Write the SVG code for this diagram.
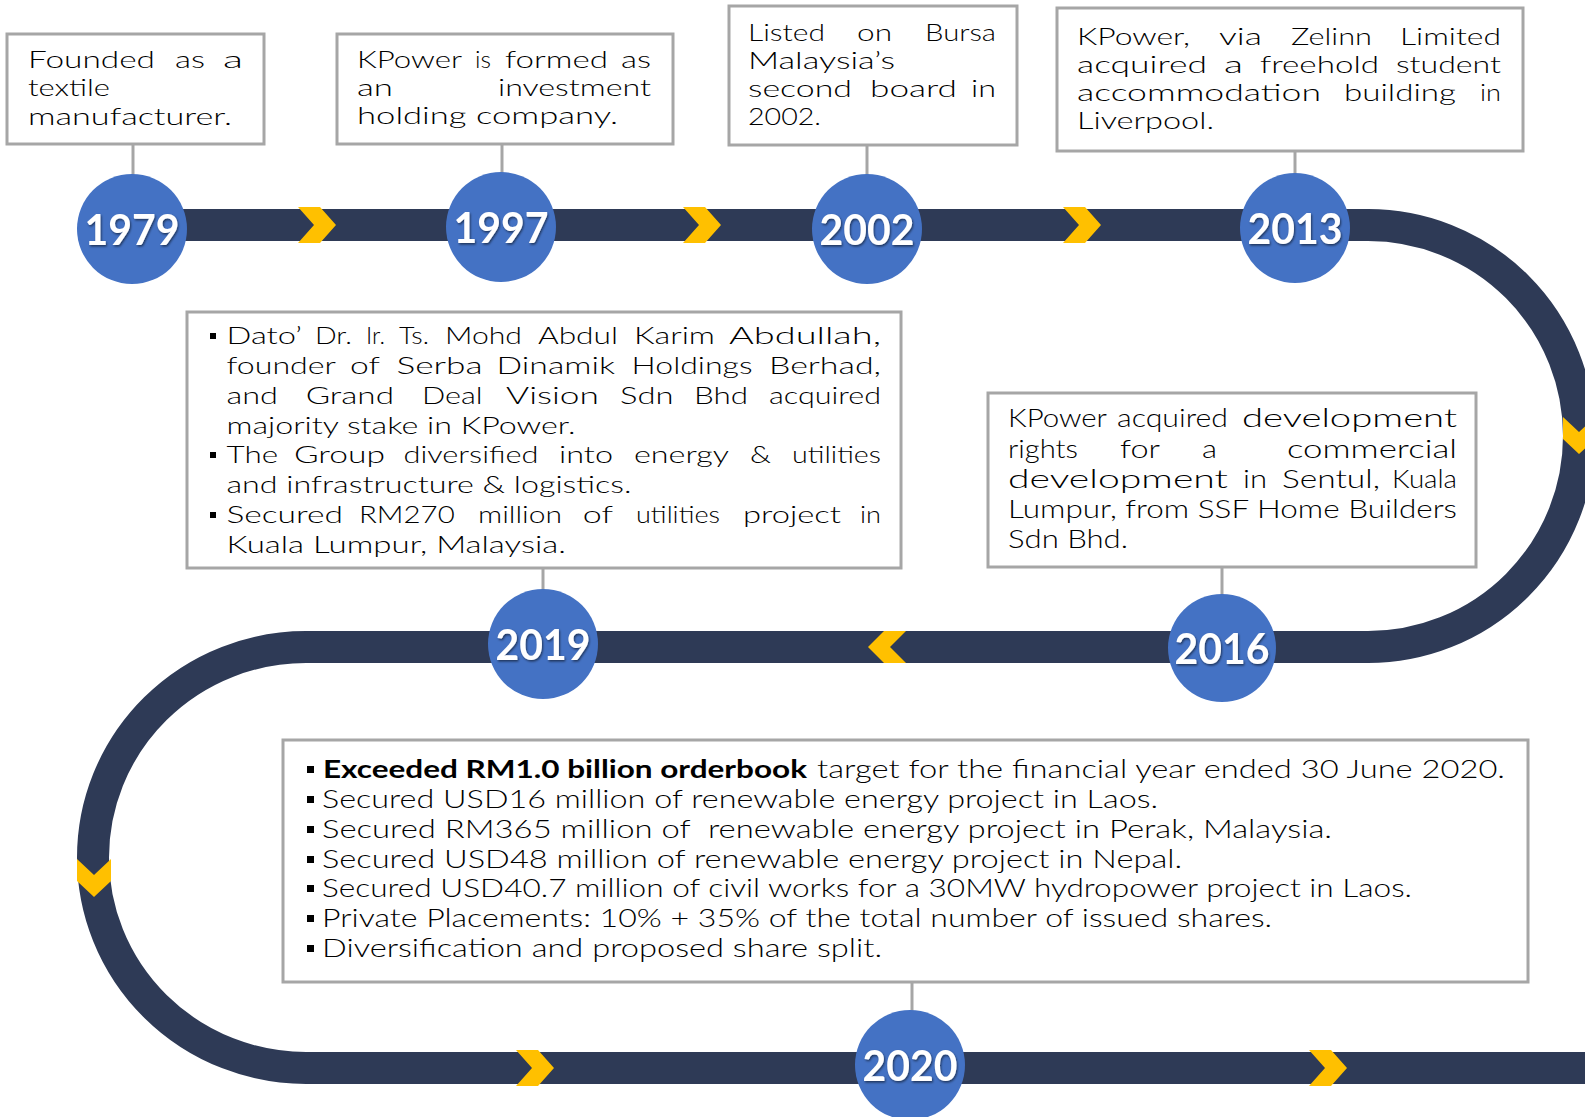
<svg xmlns="http://www.w3.org/2000/svg" width="1585" height="1117" viewBox="0 0 1585 1117">
<style>
.bg{fill:#ffffff}
.trk{fill:none;stroke:#2E3A56;stroke-width:32}
.chev{fill:#FFC000}
.box{fill:#ffffff;stroke:#A6A6A6;stroke-width:3}
.con{stroke:#A6A6A6;stroke-width:3;fill:none}
.dot{fill:#4472C4}
.yr{font-family:Lato,"Liberation Sans",Arial,sans-serif;font-weight:bold;font-size:42px;fill:#ffffff;text-anchor:middle;filter:url(#sh)}
.t{font-family:Lato,"DejaVu Sans","Liberation Sans",sans-serif;font-weight:300;fill:#000000}
.s24{font-size:24px}
.s25{font-size:25px}
.s255{font-size:25.5px}
.b{font-weight:bold}
.bul{fill:#000000}
</style>
<defs>
<filter id="sh" x="-20%" y="-20%" width="140%" height="140%">
<feDropShadow dx="1" dy="1.5" stdDeviation="1.2" flood-color="#000000" flood-opacity="0.55"/>
</filter>
<polygon id="chR" points="0,-18 22,-18 38,0 22,18 0,18 16,0"/>
</defs>
<rect class="bg" x="0" y="0" width="1585" height="1117"/>

<g id="track">
<path class="trk" d="M 132 225 H 1368 A 211 211 0 0 1 1368 647 H 306 A 213 210.5 0 0 0 306 1068 H 1600"/>
<use href="#chR" class="chev" x="298" y="225"/>
<use href="#chR" class="chev" x="683" y="225"/>
<use href="#chR" class="chev" x="1063" y="225"/>
<polygon class="chev" points="1563,417 1579,432 1595,417 1595,439 1579,454 1563,439"/>
<polygon class="chev" points="906,631 884,631 868,647 884,663 906,663 890,647"/>
<polygon class="chev" points="77,859 94,875 111,859 111,881 94,897 77,881"/>
<use href="#chR" class="chev" x="516" y="1068"/>
<use href="#chR" class="chev" x="1309" y="1068"/>
</g>

<g id="connectors">
<line class="con" x1="133" y1="144" x2="133" y2="176"/>
<line class="con" x1="502" y1="144" x2="502" y2="174"/>
<line class="con" x1="867" y1="145" x2="867" y2="176"/>
<line class="con" x1="1295" y1="151" x2="1295" y2="175"/>
<line class="con" x1="1222" y1="567" x2="1222" y2="596"/>
<line class="con" x1="543" y1="568" x2="543" y2="592"/>
<line class="con" x1="912" y1="982" x2="912" y2="1012"/>
</g>

<g id="n1979">
<rect class="box" x="7" y="34" width="257" height="110"/>
<g class="t s24">
<text x="28" y="68" textLength="127" lengthAdjust="spacingAndGlyphs">Founded</text>
<text x="175" y="68" textLength="30" lengthAdjust="spacingAndGlyphs">as</text>
<text x="223" y="68" textLength="20" lengthAdjust="spacingAndGlyphs">a</text>
<text x="28" y="96" textLength="82" lengthAdjust="spacingAndGlyphs">textile</text>
<text x="28" y="125" textLength="204" lengthAdjust="spacingAndGlyphs">manufacturer.</text>
</g>
<circle class="dot" cx="132" cy="229" r="55"/>
<text class="yr" x="132" y="245" textLength="95" lengthAdjust="spacingAndGlyphs">1979</text>
</g>

<g id="n1997">
<rect class="box" x="337" y="34" width="336" height="110"/>
<g class="t s24">
<text x="357" y="68" textLength="105" lengthAdjust="spacingAndGlyphs">KPower</text>
<text x="475" y="68" textLength="16" lengthAdjust="spacingAndGlyphs">is</text>
<text x="505" y="68" textLength="103" lengthAdjust="spacingAndGlyphs">formed</text>
<text x="621" y="68" textLength="30" lengthAdjust="spacingAndGlyphs">as</text>
<text x="357" y="96" textLength="36" lengthAdjust="spacingAndGlyphs">an</text>
<text x="498" y="96" textLength="153" lengthAdjust="spacingAndGlyphs">investment</text>
<text x="357" y="124" textLength="261" lengthAdjust="spacingAndGlyphs">holding company.</text>
</g>
<circle class="dot" cx="501" cy="227" r="55"/>
<text class="yr" x="501" y="243" textLength="95" lengthAdjust="spacingAndGlyphs">1997</text>
</g>

<g id="n2002">
<rect class="box" x="729" y="6" width="288" height="139"/>
<g class="t s24">
<text x="748" y="41" textLength="77" lengthAdjust="spacingAndGlyphs">Listed</text>
<text x="857" y="41" textLength="35" lengthAdjust="spacingAndGlyphs">on</text>
<text x="925" y="41" textLength="71" lengthAdjust="spacingAndGlyphs">Bursa</text>
<text x="748" y="69" textLength="147" lengthAdjust="spacingAndGlyphs">Malaysia’s</text>
<text x="748" y="97" textLength="104" lengthAdjust="spacingAndGlyphs">second</text>
<text x="870" y="97" textLength="87" lengthAdjust="spacingAndGlyphs">board</text>
<text x="971" y="97" textLength="25" lengthAdjust="spacingAndGlyphs">in</text>
<text x="748" y="125" textLength="73" lengthAdjust="spacingAndGlyphs">2002.</text>
</g>
<circle class="dot" cx="867" cy="229" r="55"/>
<text class="yr" x="867" y="245" textLength="95" lengthAdjust="spacingAndGlyphs">2002</text>
</g>

<g id="n2013">
<rect class="box" x="1057" y="8" width="466" height="143"/>
<g class="t s24">
<text x="1077" y="45" textLength="113" lengthAdjust="spacingAndGlyphs">KPower,</text>
<text x="1219" y="45" textLength="43" lengthAdjust="spacingAndGlyphs">via</text>
<text x="1291" y="45" textLength="81" lengthAdjust="spacingAndGlyphs">Zelinn</text>
<text x="1400" y="45" textLength="101" lengthAdjust="spacingAndGlyphs">Limited</text>
<text x="1077" y="73" textLength="130" lengthAdjust="spacingAndGlyphs">acquired</text>
<text x="1224" y="73" textLength="19" lengthAdjust="spacingAndGlyphs">a</text>
<text x="1260" y="73" textLength="119" lengthAdjust="spacingAndGlyphs">freehold</text>
<text x="1396" y="73" textLength="105" lengthAdjust="spacingAndGlyphs">student</text>
<text x="1077" y="101" textLength="244" lengthAdjust="spacingAndGlyphs">accommodation</text>
<text x="1344" y="101" textLength="112" lengthAdjust="spacingAndGlyphs">building</text>
<text x="1480" y="101" textLength="21" lengthAdjust="spacingAndGlyphs">in</text>
<text x="1077" y="129" textLength="137" lengthAdjust="spacingAndGlyphs">Liverpool.</text>
</g>
<circle class="dot" cx="1295" cy="228" r="55"/>
<text class="yr" x="1295" y="244" textLength="95" lengthAdjust="spacingAndGlyphs">2013</text>
</g>

<g id="n2016">
<rect class="box" x="988" y="393" width="488" height="174"/>
<g class="t s25">
<text x="1008" y="427" textLength="99" lengthAdjust="spacingAndGlyphs">KPower</text>
<text x="1117" y="427" textLength="111" lengthAdjust="spacingAndGlyphs">acquired</text>
<text x="1242" y="427" textLength="215" lengthAdjust="spacingAndGlyphs">development</text>
<text x="1008" y="458" textLength="70" lengthAdjust="spacingAndGlyphs">rights</text>
<text x="1120" y="458" textLength="40" lengthAdjust="spacingAndGlyphs">for</text>
<text x="1202" y="458" textLength="15" lengthAdjust="spacingAndGlyphs">a</text>
<text x="1287" y="458" textLength="170" lengthAdjust="spacingAndGlyphs">commercial</text>
<text x="1008" y="488" textLength="220" lengthAdjust="spacingAndGlyphs">development</text>
<text x="1243" y="488" textLength="24" lengthAdjust="spacingAndGlyphs">in</text>
<text x="1282" y="488" textLength="98" lengthAdjust="spacingAndGlyphs">Sentul,</text>
<text x="1392" y="488" textLength="65" lengthAdjust="spacingAndGlyphs">Kuala</text>
<text x="1008" y="518" textLength="449" lengthAdjust="spacingAndGlyphs">Lumpur, from SSF Home Builders</text>
<text x="1008" y="548" textLength="120" lengthAdjust="spacingAndGlyphs">Sdn Bhd.</text>
</g>
<circle class="dot" cx="1222" cy="648" r="54"/>
<text class="yr" x="1222" y="664" textLength="95" lengthAdjust="spacingAndGlyphs">2016</text>
</g>

<g id="n2019">
<rect class="box" x="187" y="312" width="714" height="256"/>
<rect class="bul" x="210" y="333" width="6" height="6"/>
<rect class="bul" x="210" y="452" width="6" height="6"/>
<rect class="bul" x="210" y="512" width="6" height="6"/>
<g class="t s24">
<text x="226.5" y="344" textLength="75.5" lengthAdjust="spacingAndGlyphs">Dato’</text>
<text x="315" y="344" textLength="37" lengthAdjust="spacingAndGlyphs">Dr.</text>
<text x="366" y="344" textLength="19" lengthAdjust="spacingAndGlyphs">Ir.</text>
<text x="399" y="344" textLength="30" lengthAdjust="spacingAndGlyphs">Ts.</text>
<text x="445" y="344" textLength="77" lengthAdjust="spacingAndGlyphs">Mohd</text>
<text x="538" y="344" textLength="80" lengthAdjust="spacingAndGlyphs">Abdul</text>
<text x="634" y="344" textLength="81" lengthAdjust="spacingAndGlyphs">Karim</text>
<text x="729" y="344" textLength="152" lengthAdjust="spacingAndGlyphs">Abdullah,</text>
<text x="226.5" y="374" textLength="109.5" lengthAdjust="spacingAndGlyphs">founder</text>
<text x="350" y="374" textLength="30" lengthAdjust="spacingAndGlyphs">of</text>
<text x="396.5" y="374" textLength="86" lengthAdjust="spacingAndGlyphs">Serba</text>
<text x="496.6" y="374" textLength="118.4" lengthAdjust="spacingAndGlyphs">Dinamik</text>
<text x="631.6" y="374" textLength="121" lengthAdjust="spacingAndGlyphs">Holdings</text>
<text x="769" y="374" textLength="112" lengthAdjust="spacingAndGlyphs">Berhad,</text>
<text x="226.5" y="404" textLength="51.5" lengthAdjust="spacingAndGlyphs">and</text>
<text x="305.7" y="404" textLength="88.3" lengthAdjust="spacingAndGlyphs">Grand</text>
<text x="422" y="404" textLength="60.6" lengthAdjust="spacingAndGlyphs">Deal</text>
<text x="506" y="404" textLength="93" lengthAdjust="spacingAndGlyphs">Vision</text>
<text x="620" y="404" textLength="53.5" lengthAdjust="spacingAndGlyphs">Sdn</text>
<text x="694" y="404" textLength="54" lengthAdjust="spacingAndGlyphs">Bhd</text>
<text x="769" y="404" textLength="112" lengthAdjust="spacingAndGlyphs">acquired</text>
<text x="226.5" y="434" textLength="349" lengthAdjust="spacingAndGlyphs">majority stake in KPower.</text>
<text x="226.5" y="463" textLength="51.5" lengthAdjust="spacingAndGlyphs">The</text>
<text x="294" y="463" textLength="91" lengthAdjust="spacingAndGlyphs">Group</text>
<text x="403.5" y="463" textLength="135" lengthAdjust="spacingAndGlyphs">diversified</text>
<text x="559" y="463" textLength="54" lengthAdjust="spacingAndGlyphs">into</text>
<text x="634" y="463" textLength="95" lengthAdjust="spacingAndGlyphs">energy</text>
<text x="750" y="463" textLength="21" lengthAdjust="spacingAndGlyphs">&amp;</text>
<text x="792" y="463" textLength="89" lengthAdjust="spacingAndGlyphs">utilities</text>
<text x="226.5" y="493" textLength="405" lengthAdjust="spacingAndGlyphs">and infrastructure &amp; logistics.</text>
<text x="226.5" y="523" textLength="116.5" lengthAdjust="spacingAndGlyphs">Secured</text>
<text x="359" y="523" textLength="95.7" lengthAdjust="spacingAndGlyphs">RM270</text>
<text x="478" y="523" textLength="84" lengthAdjust="spacingAndGlyphs">million</text>
<text x="582.7" y="523" textLength="30.3" lengthAdjust="spacingAndGlyphs">of</text>
<text x="636" y="523" textLength="84" lengthAdjust="spacingAndGlyphs">utilities</text>
<text x="743" y="523" textLength="98" lengthAdjust="spacingAndGlyphs">project</text>
<text x="860" y="523" textLength="21" lengthAdjust="spacingAndGlyphs">in</text>
<text x="226.5" y="553" textLength="339.5" lengthAdjust="spacingAndGlyphs">Kuala Lumpur, Malaysia.</text>
</g>
<circle class="dot" cx="543" cy="644" r="55"/>
<text class="yr" x="543" y="660" textLength="95" lengthAdjust="spacingAndGlyphs">2019</text>
</g>

<g id="n2020">
<rect class="box" x="283" y="740" width="1245" height="242"/>
<rect class="bul" x="307" y="766" width="7" height="7"/>
<rect class="bul" x="307" y="796" width="7" height="7"/>
<rect class="bul" x="307" y="826" width="7" height="7"/>
<rect class="bul" x="307" y="856" width="7" height="7"/>
<rect class="bul" x="307" y="885" width="7" height="7"/>
<rect class="bul" x="307" y="915" width="7" height="7"/>
<rect class="bul" x="307" y="945" width="7" height="7"/>
<g class="t s255">
<text class="b" x="323" y="778" textLength="484" lengthAdjust="spacingAndGlyphs">Exceeded RM1.0 billion orderbook</text>
<text x="817" y="778" textLength="688" lengthAdjust="spacingAndGlyphs">target for the financial year ended 30 June 2020.</text>
<text x="322" y="808" textLength="836" lengthAdjust="spacingAndGlyphs">Secured USD16 million of renewable energy project in Laos.</text>
<text x="322" y="838" textLength="1010" lengthAdjust="spacingAndGlyphs" xml:space="preserve">Secured RM365 million of  renewable energy project in Perak, Malaysia.</text>
<text x="322" y="868" textLength="860" lengthAdjust="spacingAndGlyphs">Secured USD48 million of renewable energy project in Nepal.</text>
<text x="322" y="897" textLength="1090" lengthAdjust="spacingAndGlyphs">Secured USD40.7 million of civil works for a 30MW hydropower project in Laos.</text>
<text x="322" y="927" textLength="950" lengthAdjust="spacingAndGlyphs">Private Placements: 10% + 35% of the total number of issued shares.</text>
<text x="322" y="957" textLength="560" lengthAdjust="spacingAndGlyphs">Diversification and proposed share split.</text>
</g>
<circle class="dot" cx="910" cy="1065" r="55"/>
<text class="yr" x="910" y="1081" textLength="95" lengthAdjust="spacingAndGlyphs">2020</text>
</g>
</svg>
